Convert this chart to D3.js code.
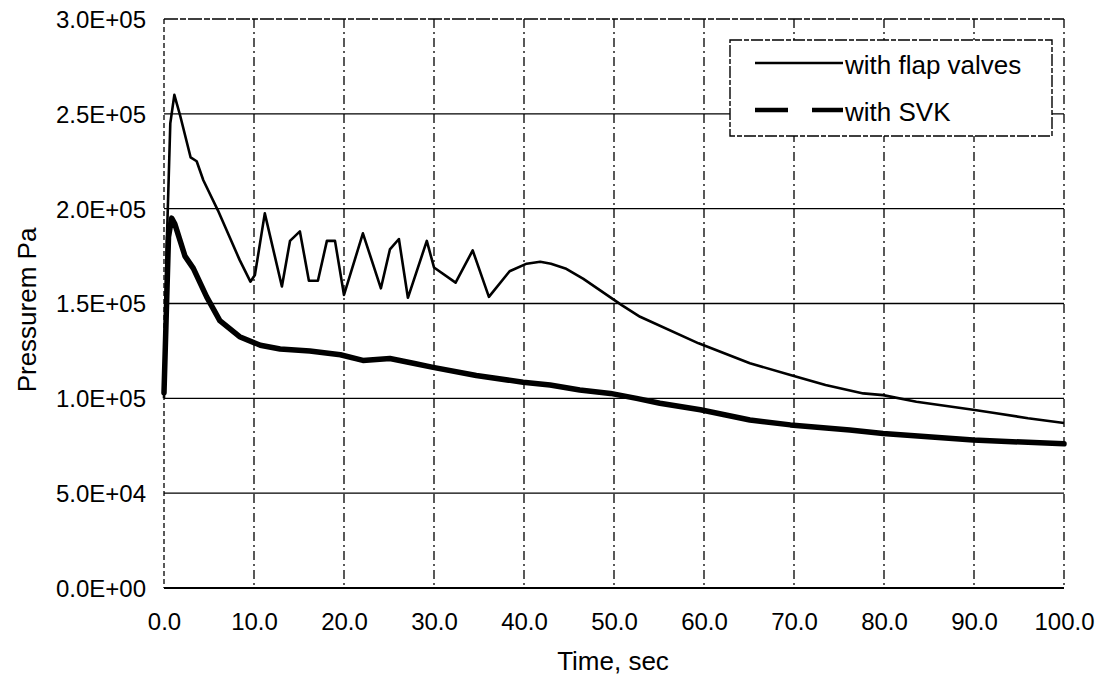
<!DOCTYPE html>
<html>
<head>
<meta charset="utf-8">
<script src="https://cdn.jsdelivr.net/npm/d3@7"></script>
<style>
  html, body { margin: 0; padding: 0; background: #fff; }
  svg { display: block; font-family: "Liberation Sans", Arial, sans-serif; }
</style>
</head>
<body>
<svg id="chart" width="1101" height="685"></svg>
<script>
// ---------- data ----------
const xTicks = [0, 10, 20, 30, 40, 50, 60, 70, 80, 90, 100];
const xTickLabels = ["0.0", "10.0", "20.0", "30.0", "40.0", "50.0", "60.0", "70.0", "80.0", "90.0", "100.0"];
const yTicks = [0, 50000, 100000, 150000, 200000, 250000, 300000];
const yTickLabels = ["0.0E+00", "5.0E+04", "1.0E+05", "1.5E+05", "2.0E+05", "2.5E+05", "3.0E+05"];

const seriesNames = ["with flap valves", "with SVK"];

const flapTime = [0, 0.3, 0.7, 1.15, 1.8, 2.96, 3.63, 4.37, 6.0, 8.4, 9.6, 10.1, 11.2, 13.1, 14.0, 15.1,
  16.1, 17.1, 18.1, 19.0, 20.0, 22.1, 24.1, 25.1, 26.1, 27.1, 29.2, 30.0, 32.4, 34.3, 36.1, 38.4,
  40.3, 41.8, 43.0, 44.6, 46.6, 50.9, 52.9, 59.4, 65.1, 69.6, 73.5, 77.7, 79.9, 83.6, 89.9, 92.1, 96.0, 100];
const flapPressure = [100000, 180000, 245000, 260000, 249000, 227000, 225000, 215000, 199000, 173000, 161500, 165000,
  197500, 159000, 183000, 188000, 162000, 162000, 183000, 183000, 154500, 187000, 158000, 178500, 184000, 153000,
  183000, 169000, 161000, 178000, 153500, 167000, 171000, 172000, 171000, 168500, 163000, 149000, 143000, 129000,
  118500, 112300, 107000, 102600, 101700, 98200, 94000, 92400, 89500, 87000];

const svkTime = [0, 0.5, 0.85, 1.2, 2.33, 3.26, 4.74, 6.2, 8.4, 10.7, 12.9, 16.2, 19.6, 22.1, 25.1, 27.7, 29.9,
  34.7, 39.9, 42.9, 46.2, 49.6, 52.5, 55.1, 59.6, 65.1, 69.6, 76.2, 79.9, 89.9, 100];
const svkPressure = [103000, 185000, 195000, 192000, 175000, 168500, 153500, 141000, 132500, 128000, 126000, 125000,
  123000, 120000, 121000, 118500, 116300, 112000, 108500, 107000, 104400, 102600, 100000, 97400, 94000, 88600,
  86000, 83300, 81500, 78000, 76000];

// ---------- layout ----------
const svg = d3.select("#chart");
svg.append("rect").attr("width", 1101).attr("height", 685).attr("fill", "#fff");

const x = d3.scaleLinear().domain([0, 100]).range([164, 1064]);
const y = d3.scaleLinear().domain([0, 300000]).range([588, 19]);

const grid = svg.append("g");
// horizontal gridlines
yTicks.forEach((v, i) => {
  grid.append("line")
    .attr("x1", x(0)).attr("x2", x(100))
    .attr("y1", y(v)).attr("y2", y(v))
    .attr("stroke", "#000")
    .attr("stroke-width", i === 0 ? 1.8 : 1.4)
    .attr("stroke-dasharray", i === yTicks.length - 1 ? "14,2,6,2" : null);
});
// vertical gridlines
xTicks.forEach((v, i) => {
  grid.append("line")
    .attr("x1", x(v)).attr("x2", x(v))
    .attr("y1", y(300000)).attr("y2", y(0))
    .attr("stroke", "#000")
    .attr("stroke-width", 1.3)
    .attr("stroke-dasharray", i === 0 ? "5,3" : "9,4,2,4");
});

// axes (labels only)
const xAxis = d3.axisBottom(x).tickValues(xTicks).tickFormat((d, i) => xTickLabels[i]).tickSize(0).tickPadding(0);
const gx = svg.append("g").attr("transform", `translate(0,${y(0)})`).call(xAxis);
gx.select(".domain").remove();
gx.selectAll("text").attr("y", 42).attr("dy", null)
  .attr("font-size", 24).attr("fill", "#000").attr("font-family", "Liberation Sans, Arial, sans-serif");

const yAxis = d3.axisLeft(y).tickValues(yTicks).tickFormat((d, i) => yTickLabels[i]).tickSize(0).tickPadding(0);
const gy = svg.append("g").attr("transform", `translate(146,0)`).call(yAxis);
gy.select(".domain").remove();
gy.selectAll("text").attr("x", 0).attr("dy", "0.35em")
  .attr("font-size", 24).attr("fill", "#000").attr("font-family", "Liberation Sans, Arial, sans-serif");

// axis titles
svg.append("text").attr("x", 613).attr("y", 670).attr("text-anchor", "middle")
  .attr("font-size", 26).attr("fill", "#000").text("Time, sec");
svg.append("text").attr("transform", "translate(36,310) rotate(-90)").attr("text-anchor", "middle")
  .attr("font-size", 26).attr("fill", "#000").text("Pressurem Pa");

// series
const line = d3.line().x(d => x(d[0])).y(d => y(d[1]));
const flapData = flapTime.map((t, i) => [t, flapPressure[i]]);
const svkData = svkTime.map((t, i) => [t, svkPressure[i]]);

svg.append("path").datum(svkData).attr("d", line)
  .attr("fill", "none").attr("stroke", "#000").attr("stroke-width", 5.5)
  .attr("stroke-linejoin", "round").attr("stroke-linecap", "round");
svg.append("path").datum(flapData).attr("d", line)
  .attr("fill", "none").attr("stroke", "#000").attr("stroke-width", 2.6)
  .attr("stroke-linejoin", "round");

// legend
const lg = svg.append("g");
lg.append("rect").attr("x", 730).attr("y", 40).attr("width", 322).attr("height", 96)
  .attr("fill", "#fff").attr("stroke", "#000").attr("stroke-width", 1.4).attr("stroke-dasharray", "12,2,5,2");
lg.append("line").attr("x1", 755).attr("x2", 843).attr("y1", 63).attr("y2", 63)
  .attr("stroke", "#000").attr("stroke-width", 2.6);
lg.append("line").attr("x1", 755).attr("x2", 843).attr("y1", 110).attr("y2", 110)
  .attr("stroke", "#000").attr("stroke-width", 4.5).attr("stroke-dasharray", "33,24");
lg.append("text").attr("x", 845).attr("y", 74).attr("font-size", 26).attr("fill", "#000").text(seriesNames[0]);
lg.append("text").attr("x", 845).attr("y", 121).attr("font-size", 26).attr("fill", "#000").text(seriesNames[1]);
</script>
</body>
</html>
